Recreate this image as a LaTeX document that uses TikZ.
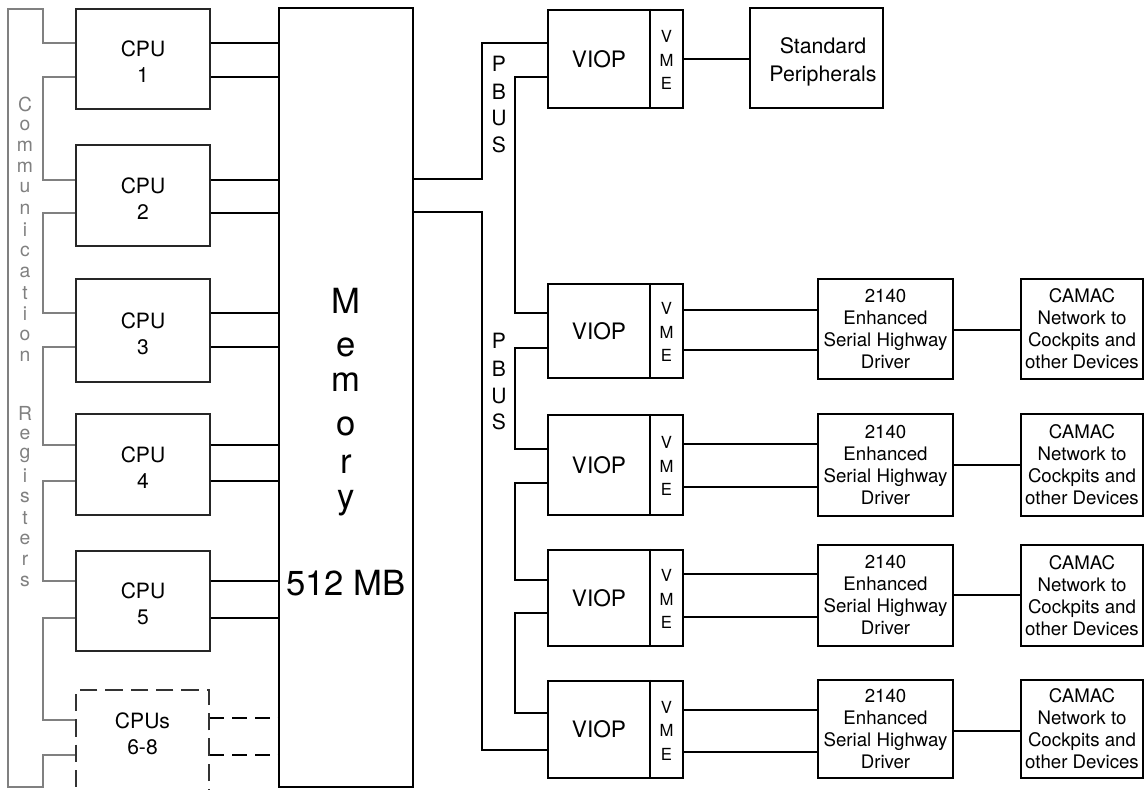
\documentclass[tikz,border=0pt]{standalone}
\usepackage{fontspec}
\setmainfont{TeX Gyre Heros}
\newcommand\mybox[7]{\node[#1, minimum width={(#5-#3)*0.75pt}, minimum height={(#6-#4)*0.75pt}] (#2) at ({(#3+#5)/2},{(#4+#6)/2}) {#7};}
\begin{document}
\begin{tikzpicture}[x=0.75pt,y=-0.75pt,
  box/.style={draw=black, line width=1.6pt, inner sep=0pt, align=center},
  boxline/.style={draw=black, line width=1.4pt},
  cpubox/.style={draw=black!85, line width=1.3pt, inner sep=0pt, align=center, fcpu},
  dashbox/.style={draw=black!80, line width=1.1pt, dash pattern=on 13pt off 6pt, inner sep=0pt},
  wire/.style={draw=black, line width=1.1pt},
  dashwire/.style={draw=black, line width=1.1pt, dash pattern=on 11pt off 6pt},
  commwire/.style={draw=black!50, line width=0.8pt},
  fcpu/.style={font=\fontsize{15.8}{19.5}\selectfont},
  fviop/.style={font=\fontsize{17}{20}\selectfont},
  fvme/.style={font=\fontsize{12.5}{17.6}\selectfont},
  fbus/.style={font=\fontsize{15.8}{19}\selectfont},
  fmem/.style={font=\fontsize{26}{30}\selectfont},
  fesh/.style={font=\fontsize{14}{16.5}\selectfont},
  fstd/.style={font=\fontsize{16}{21.3}\selectfont},
  fcomm/.style={font=\fontsize{14.5}{16}\selectfont, text=black!50}
]
\useasboundingbox (0,0) rectangle (1146,789);
\clip (0,0) rectangle (1146,789);

% CPUs
\foreach \n/\ya/\yb in {1/9/109, 2/145/246, 3/279/382, 4/414/515, 5/551/651} {
  \mybox{cpubox}{cpu\n}{76}{\ya}{210}{\yb}{}
  \node[fcpu, align=center, inner sep=0pt] (cput\n) at (143,{(\ya+\yb)/2+3}) {CPU\\\n};
}
\mybox{dashbox}{cpu6}{76}{690}{209}{800}{}
\node[fcpu, align=center, inner sep=0pt] (cpu6t) at (142.5,734) {CPUs\\6-8};

% Memory
\mybox{box}{mem}{279}{8}{413}{787}{}
\foreach \l/\yy [count=\i] in {M/313,e/356,m/391,o/435,r/473,y/508}
  \node[fmem, anchor=base, inner sep=0pt] (memL\i) at (346,\yy) {\l};
\node[fmem, anchor=base, inner sep=0pt] (memsize) at (346,595) {512 MB};

% Communication registers text
\foreach \l [count=\i from 0] in {C,o,m,m,u,n,i,c,a,t,i,o,n}
  \node[fcomm, inner sep=0pt] (cm\i) at (25,{104+21*\i}) {\l};
\foreach \l [count=\i from 0] in {R,e,g,i,s,t,e,r,s}
  \node[fcomm, inner sep=0pt] (rg\i) at (25,{413+21*\i}) {\l};

% Communication register wires
\draw[commwire] (cpu1.west |- 0,43) -- (43,43) -- (43,9) -- (8,9) -- (8,787) -- (43,787) -- (43,755) -- (cpu6.west |- 0,755);
\foreach \a/\b/\ya/\yb in {cpu1/cpu2/77/180, cpu2/cpu3/213/313, cpu3/cpu4/347/445, cpu4/cpu5/481/581, cpu5/cpu6/618/720}
  \draw[commwire] (\a.west |- 0,\ya) -| (43,\yb) -- (\b.west |- 0,\yb);

% CPU to memory wires
\foreach \c/\ya/\yb in {cpu1/43/77, cpu2/180/213, cpu3/313/347, cpu4/445/481, cpu5/581/618} {
  \draw[wire] (\c.east |- 0,\ya) -- (mem.west |- 0,\ya);
  \draw[wire] (\c.east |- 0,\yb) -- (mem.west |- 0,\yb);
}
\draw[dashwire] (cpu6.east |- 0,718) -- (mem.west |- 0,718);
\draw[dashwire] (cpu6.east |- 0,755) -- (mem.west |- 0,755);

% VIOPs
\foreach \n/\ya/\yb in {1/10/108, 2/284/378, 3/415/515, 4/550/646, 5/681/778} {
  \mybox{box}{viop\n}{548}{\ya}{683}{\yb}{}
  \draw[boxline] (viop\n.north -| 650,0) -- (viop\n.south -| 650,0);
  \node[fviop, inner sep=0pt] (viopt\n) at (599,{(\ya+\yb)/2}) {VIOP};
  \node[fvme, align=center, inner sep=0pt] (vme\n) at (666.5,{(\ya+\yb)/2+1}) {V\\M\\E};
}

% PBUS labels
\foreach \l/\yy [count=\i] in {P/64,B/92,U/118,S/145}
  \node[fbus, inner sep=0pt] (pa\i) at (499,\yy) {\l};
\foreach \l/\yy [count=\i] in {P/341,B/369,U/396,S/422}
  \node[fbus, inner sep=0pt] (pb\i) at (499,\yy) {\l};

% PBUS wires
\draw[wire] (mem.east |- 0,179) -| (482,43) -- (viop1.west |- 0,43);
\draw[wire] (mem.east |- 0,212) -| (482,750) -- (viop5.west |- 0,750);
\foreach \a/\b/\ya/\yb in {viop1/viop2/77/313, viop2/viop3/348/449, viop3/viop4/483/580, viop4/viop5/613/713}
  \draw[wire] (\a.west |- 0,\ya) -| (515,\yb) -- (\b.west |- 0,\yb);

% Standard peripherals
\mybox{box}{std}{750}{8}{883}{108}{}
\node[fstd, align=center, inner sep=0pt] (stdt) at (823,62) {Standard\\Peripherals};
\draw[wire] (viop1.east |- 0,59) -- (std.west |- 0,59);

% Serial highway drivers and CAMAC
\foreach \n/\ya/\yb in {1/279/379, 2/414/516, 3/545/646, 4/680/778} {
  \mybox{box, fesh}{esh\n}{818}{\ya}{953}{\yb}{2140\\Enhanced\\Serial Highway\\Driver}
  \mybox{box, fesh}{cam\n}{1021}{\ya}{1143}{\yb}{CAMAC\\Network to\\Cockpits and\\other Devices}
}
\foreach \v/\e/\ya/\yb in {viop2/esh1/310/350, viop3/esh2/444/487, viop4/esh3/574/617, viop5/esh4/710/752} {
  \draw[wire] (\v.east |- 0,\ya) -- (\e.west |- 0,\ya);
  \draw[wire] (\v.east |- 0,\yb) -- (\e.west |- 0,\yb);
}
\foreach \e/\c/\yc in {esh1/cam1/330, esh2/cam2/465, esh3/cam3/595, esh4/cam4/731}
  \draw[wire] (\e.east |- 0,\yc) -- (\c.west |- 0,\yc);
\end{tikzpicture}
\end{document}
